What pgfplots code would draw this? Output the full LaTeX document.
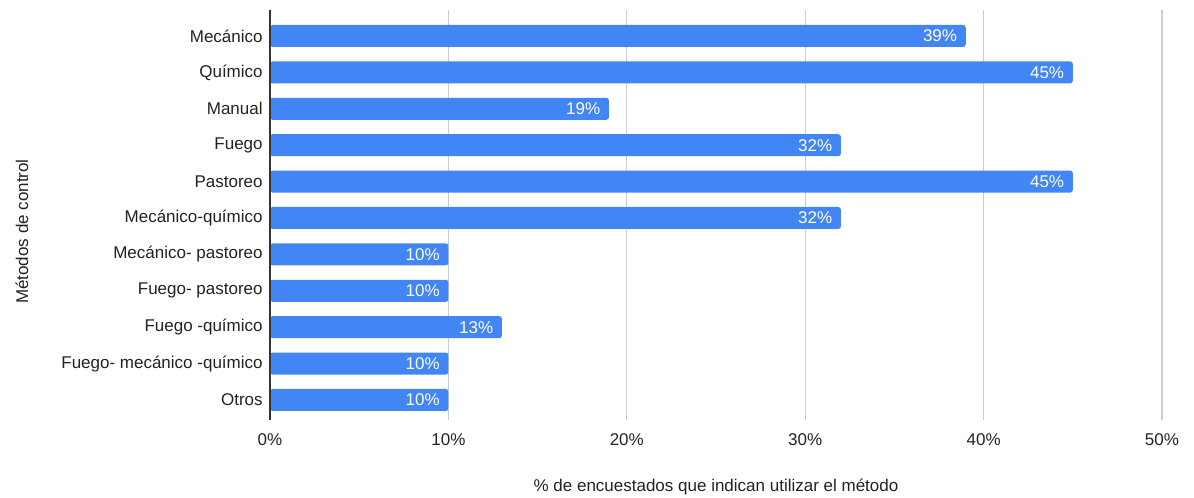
\documentclass[border=0pt]{standalone}
\usepackage{pgfplots}
\pgfplotsset{compat=1.18}
\usepackage{fontspec}
\setmainfont{Liberation Sans}
\definecolor{barblue}{HTML}{4285F4}
\definecolor{gridgray}{HTML}{CCCCCC}
\definecolor{txt}{HTML}{222222}
\begin{document}
\begin{tikzpicture}[x=1pt,y=1pt]
\path[use as bounding box] (-202.5pt,-58.5pt) rectangle (693pt,315pt);
\begin{axis}[
  at={(0,0)}, anchor=south west,
  scale only axis,
  width=669pt, height=307.5pt,
  xbar, bar width=16.5pt,
  xmin=0, xmax=50,
  ymin=-0.714, ymax=10.55,
  y dir=reverse,
  axis y line*=left,
  axis x line=none,
  hide x axis=false,
  axis line style={draw=none},
  xmajorgrids, grid style={gridgray, line width=0.9pt},
  xtick={0,10,20,30,40,50},
  xticklabels={0\%,10\%,20\%,30\%,40\%,50\%},
  ytick={0,...,10},
  yticklabels={Mecánico,Químico,Manual,Fuego,Pastoreo,Mecánico-químico,Mecánico- pastoreo,Fuego- pastoreo,Fuego -químico,Fuego- mecánico -químico,Otros},
  major tick length=0pt,
  tick style={draw=none},
  font=\fontsize{12.75pt}{15pt}\selectfont,
  every tick label/.append style={text=txt, font=\fontsize{12.75pt}{15pt}\selectfont},
  yticklabel style={xshift=-2pt},
  xticklabel style={yshift=-7pt},
  /pgf/number format/assume math mode=true,
  xlabel={\% de encuestados que indican utilizar el método},
  ylabel={Métodos de control},
  xlabel style={at={(axis description cs:0.5,-0.1634)}, anchor=center, text=txt},
  ylabel style={at={(axis description cs:-0.2780,0.4597)}, anchor=center, rotate=0, text=txt},
  clip=false,
  nodes near coords={\pgfmathprintnumber{\pgfplotspointmeta}\%},
  nodes near coords style={anchor=east, text=white, xshift=-3pt, font=\fontsize{12.75pt}{15pt}\selectfont},
]
\addplot[fill=barblue, draw=none, rounded corners=2pt] coordinates {
(39,0) (45,1) (19,2) (32,3) (45,4) (32,5) (10,6) (10,7) (13,8) (10,9) (10,10)
};
\draw[black!80, line width=1pt] (axis cs:0,-0.714) -- (axis cs:0,10.55);
\end{axis}
\end{tikzpicture}
\end{document}
